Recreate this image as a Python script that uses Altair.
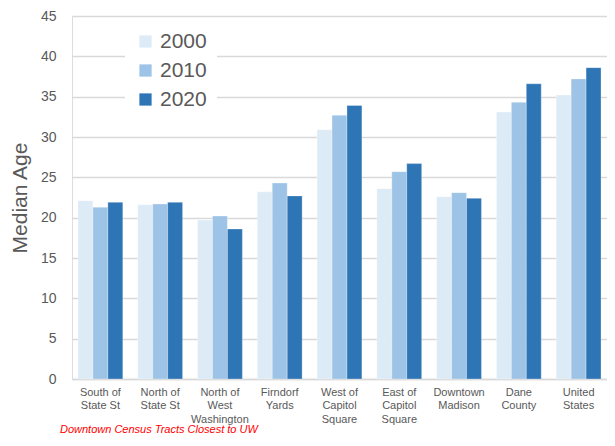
import altair as alt
import pandas as pd

categories = ["South of State St", "North of State St", "North of West Washington",
              "Firndorf Yards", "West of Capitol Square", "East of Capitol Square",
              "Downtown Madison", "Dane County", "United States"]
label_lines = {
    "South of State St": ["South of", "State St"],
    "North of State St": ["North of", "State St"],
    "North of West Washington": ["North of", "West", "Washington"],
    "Firndorf Yards": ["Firndorf", "Yards"],
    "West of Capitol Square": ["West of", "Capitol", "Square"],
    "East of Capitol Square": ["East  of", "Capitol", "Square"],
    "Downtown Madison": ["Downtown", "Madison"],
    "Dane County": ["Dane", "County"],
    "United States": ["United", "States"],
}
years = ["2000", "2010", "2020"]
v2000 = [22.1, 21.6, 19.7, 23.2, 30.9, 23.6, 22.6, 33.1, 35.2]
v2010 = [21.3, 21.7, 20.2, 24.3, 32.7, 25.7, 23.1, 34.3, 37.2]
v2020 = [21.9, 21.9, 18.6, 22.7, 33.9, 26.7, 22.4, 36.6, 38.6]
colors = ["#DDEBF7", "#9DC3E6", "#2E75B6"]

rows = []
for i, c in enumerate(categories):
    for y, vals in zip(years, [v2000, v2010, v2020]):
        rows.append({"tract": c, "year": y, "age": vals[i]})
df = pd.DataFrame(rows)

label_expr = "{" + ",".join(
    f'"{k}": [' + ",".join(f'"{s}"' for s in v) + "]" for k, v in label_lines.items()
) + "}"

grey = "#595959"

bars = alt.Chart(df).mark_bar(stroke="white", strokeWidth=0.5, strokeOpacity=0.6).encode(
    x=alt.X("tract:N", sort=categories, title=None,
            scale=alt.Scale(paddingInner=0.25, paddingOuter=0.1),
            axis=alt.Axis(labelAngle=0, labelExpr=f"{label_expr}[datum.value]",
                          labelFont="Liberation Sans", labelFontSize=11, labelColor=grey,
                          labelLineHeight=13.5, labelPadding=7, labelBaseline="top",
                          ticks=False, domainColor="#D9D9D9", domainWidth=1.5,
                          grid=False)),
    xOffset=alt.XOffset("year:N", sort=years, scale=alt.Scale(paddingInner=0, paddingOuter=0)),
    y=alt.Y("age:Q", title="Median Age",
            scale=alt.Scale(domain=[0, 45], nice=False),
            axis=alt.Axis(values=list(range(0, 46, 5)), domain=False, ticks=False,
                          labelFont="Liberation Sans", labelFontSize=14, labelColor=grey,
                          labelPadding=16, gridColor="#D9D9D9", gridWidth=1.5,
                          titleFont="Liberation Sans", titleFontSize=21,
                          titleFontWeight="normal", titleColor=grey, titlePadding=10)),
    color=alt.Color("year:N", sort=years,
                    scale=alt.Scale(domain=years, range=colors),
                    legend=alt.Legend(title=None, orient="none", legendX=53, legendY=5,
                                      symbolType="square", symbolSize=150,
                                      symbolStrokeWidth=0, labelFont="Liberation Sans",
                                      labelFontSize=21, labelColor=grey, labelOffset=4,
                                      rowPadding=7, fillColor="white", padding=10)),
)

note = alt.Chart(pd.DataFrame({"t": ["Downtown Census Tracts Closest to UW"]})).mark_text(
    font="Liberation Sans", fontSize=11, fontStyle="italic", color="#FF0000",
    align="left", baseline="middle",
).encode(text="t:N", x=alt.value(-12), y=alt.value(414))

chart = alt.layer(bars, note).properties(
    width=535, height=363,
    autosize=alt.AutoSizeParams(type="none"),
    padding={"left": 64, "top": 8, "right": 0, "bottom": 55},
).configure_view(stroke=None).configure(background="white")

chart.save("out.html", embed_options={"renderer": "svg", "actions": False})
